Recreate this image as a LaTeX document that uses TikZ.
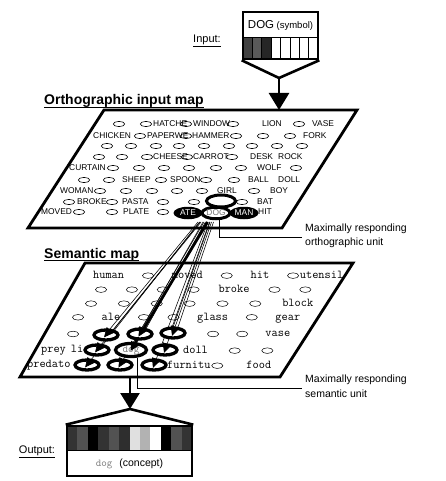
\documentclass[tikz,border=0pt]{standalone}
\usepackage{fontspec}
\setmainfont{Liberation Sans}
\usetikzlibrary{arrows.meta,calc,shapes.geometric}
\newcommand\sunit{\tikz[baseline=-3.0pt]\draw[line width=0.5pt](0pt,0pt) ellipse [x radius=5.6pt,y radius=2.8pt];}
\tikzset{
  plane/.style={draw,line width=2.8pt,fill=white,line join=miter},
  oword/.style={inner sep=0pt,anchor=west,font=\fontsize{8.4}{9}\selectfont},
  oell/.style={ellipse,draw,line width=0.6pt,minimum width=11.5pt,minimum height=5.2pt,inner sep=0pt},
  srow/.style={inner sep=0pt,anchor=west,font=\ttfamily\fontsize{12}{13}\selectfont},
  hunit/.style={ellipse,draw,line width=3.3pt,fill=white,minimum width=24pt,minimum height=10pt,inner sep=0pt},
  blackunit/.style={ellipse,fill=black,text=white,minimum width=29pt,minimum height=12.5pt,inner sep=0pt,font=\fontsize{8.4}{9}\selectfont},
  ringunit/.style={ellipse,draw,line width=3pt,fill=white,minimum width=29pt,minimum height=12pt,inner sep=0pt},
  heavy/.style={line width=2.6pt,line join=miter},
  wire/.style={line width=0.55pt},
  ahead/.style={line width=0.6pt,-{Triangle[length=9.5pt,width=9pt]}},
  lbl/.style={anchor=west,align=left,inner sep=0pt,font=\fontsize{10.5}{14.5}\selectfont},
  hdr/.style={anchor=base west,inner sep=0pt,font=\bfseries\fontsize{14}{15}\selectfont},
  side/.style={inner sep=0pt,font=\fontsize{11}{12}\selectfont},
  boxframe/.style={draw,line width=2.6pt,inner sep=0pt}
}
\newcommand\orow[3]{%
  \foreach \ww/\xx in {#3}{\node[oword] (ow-\ww) at (\xx,#1) {\ww};}%
  \foreach \xx in {#2}{\node[oell] (oe-#1-\xx) at (\xx,#1) {};}%
}
\begin{document}
\begin{tikzpicture}[x=1pt,y=-1pt]
\useasboundingbox (0,0) rectangle (445,481);
\fill[white] (0,0) rectangle (445,481);

% ---------- input ----------
\node[side] (inlbl) at (207,41) {\underline{Input:}};
\foreach \c [count=\i from 0] in {black!75,black!65,black!85,white,white,white,white,white}{
  \fill[\c] (243+\i*9.375,37) rectangle ++(9.375,21);
  \draw[line width=0.6pt] (243+\i*9.375,37) rectangle ++(9.375,21);
}
\node[inner sep=0pt] (itxt) at (280.5,25) {\fontsize{11.5}{12}\selectfont DOG\hskip2.5pt\fontsize{9.5}{10}\selectfont(symbol)};
\node[boxframe,minimum width=75pt,minimum height=47pt] (ibox) at (280.5,35.5) {};
\coordinate (iapex) at (279,78);
\coordinate (otop) at (279,110);
\draw[heavy] (ibox.south west) -- (iapex) -- (ibox.south east);
\draw[heavy,-{Triangle[length=17pt,width=20pt]}] (iapex) -- (otop);

% ---------- orthographic map ----------
\node[hdr] (hdo) at (44,105) {Orthographic input map};
\draw[line width=1.3pt] ([yshift=-2.2pt]hdo.base west) -- ([yshift=-2.2pt]hdo.base east);
\draw[plane] (104,110) -- (357,110) -- (282,228) -- (28,228) -- cycle;

\orow{124}{119,146,186,233,299}{HATCHE/153,WINDOW/193,LION/262,VASE/312}
\orow{136}{140,186,236,263,290}{CHICKEN/93,PAPERWE/147,HAMMER/192,FORK/303}
\orow{146}{107,131,156,179,204,229,252,277,302}{}
\orow{157}{99,122,147,187,232}{CHEESE/153,CARROT/193,DESK/250,ROCK/278}
\orow{168}{113,139,164,189,216,241,296}{CURTAIN/69,WOLF/257}
\orow{180}{84,109,161,206,234}{SHEEP/122,SPOON/170,BALL/248,DOLL/278}
\orow{191}{100,126,152,177,202,254}{WOMAN/60,GIRL/217,BOY/270}
\orow{202}{69,112,163,194,242}{BROKE/77,PASTA/122,BAT/257}
\orow{212}{79,112,163}{MOVED/41,PLATE/123,HIT/258}

\node[ringunit] (oring) at (221,201) {};
\node[blackunit] (oate) at (188,213) {ATE};
\node[blackunit] (oman) at (244,213) {MAN};
\node[ringunit,minimum width=28pt,minimum height=11.5pt,text=black!55,font=\fontsize{8.4}{9}\selectfont] (odog) at (216,213) {DOG};

% ---------- semantic map ----------
\node[hdr] (hds) at (44,258) {Semantic map};
\draw[line width=1.3pt] ([yshift=-2.2pt]hds.base west) -- ([yshift=-2.2pt]hds.base east);
\draw[plane] (85,263) -- (353,263) -- (280,377) -- (20,377) -- cycle;

\node[srow] (s1) at (93,275) {\hbox to 250pt{human\hfill\sunit\hfill moved\hfill\sunit\hfill hit\hfill\sunit\kern1pt utensil}};
\node[srow] (s2) at (95,289) {\hbox to 216pt{\sunit\hfill\sunit\hfill\sunit\hfill\sunit\hfill broke\hfill\sunit\hfill\sunit}};
\node[srow] (s3) at (85,303) {\hbox to 228pt{\sunit\hfill\sunit\hfill\sunit\hfill\sunit\hfill\sunit\hfill\sunit\hfill block}};
\node[srow] (s4) at (72,318) {\hbox to 228pt{\sunit\hfill ale\hfill\sunit\hfill\sunit\hfill glass\hfill\sunit\hfill gear}};
\node[srow] (s5a) at (67,334) {\sunit};
\node[srow] (s5b) at (207,334) {\hbox to 83pt{\sunit\hfill\sunit\hfill vase}};
\node[srow] (s6a) at (41,350) {prey\kern5pt li};
\node[srow] (s6b) at (183,350) {\hbox to 90pt{doll\hfill\sunit\hfill\sunit}};
\node[srow] (s7a) at (27,365) {predato};
\node[srow] (s7b) at (167,365) {\hbox to 104pt{furnitu\kern1pt\sunit\hfill food}};

% sources under the orthographic DOG unit
\coordinate (q1) at (198,222);
\coordinate (q2) at (201,222);
\coordinate (q3) at (203,222);
\coordinate (q4) at (205.5,222);
\coordinate (q5) at (207.5,222);
\coordinate (q6) at (209.5,222);
\coordinate (q7) at (211.5,222);
\coordinate (q8) at (213.5,222);
\coordinate (q9) at (200,222);
\coordinate (q10) at (210,222);
\coordinate (q11) at (199.5,222);
\coordinate (q12) at (204,222);
\coordinate (q13) at (208,222);

% highlighted semantic units (positions)
\coordinate (p1) at (106,335);
\coordinate (p2) at (140,334);
\coordinate (p3) at (173,333);
\coordinate (p4) at (97,350);
\coordinate (p5) at (131,350);
\coordinate (p6) at (165,350);
\coordinate (p7) at (87,365);
\coordinate (p8) at (120,365);
\coordinate (p9) at (154,365);

% wires
\draw[wire] (q1) -- ([xshift=-1pt]p1);
\draw[wire] (q2) -- ([xshift=3pt]p1);
\draw[wire] (q3) -- ([xshift=-1pt]p2);
\draw[wire] (q4) -- ([xshift=3pt]p2);
\draw[line width=2.8pt] (q5) -- (p5);
\draw[wire] (q6) -- ([xshift=-3pt]p3);
\draw[wire] (q7) -- (p3);
\draw[wire] (q8) -- ([xshift=3pt]p3);
\draw[wire] (q9) -- (p4);
\draw[wire] (q10) -- (p6);
\draw[wire] (q11) -- (p7);
\draw[wire] (q12) -- (p8);
\draw[wire] (q13) -- (p9);

% units
\node[hunit] (h1) at (p1) {};
\node[hunit] (h2) at (p2) {};
\node[hunit] (h3) at (p3) {};
\node[hunit] (h4) at (p4) {};
\node[hunit,minimum width=31pt,minimum height=13pt,font=\ttfamily\fontsize{11}{12}\selectfont,text=black!55] (sdog) at (p5) {dog};
\node[hunit] (h6) at (p6) {};
\node[hunit] (h7) at (p7) {};
\node[hunit] (h8) at (p8) {};
\node[hunit] (h9) at (p9) {};

% arrowheads
\draw[ahead] ($(h1.center)!6pt!(q2)$) -- ($(h1.center)!-3pt!(q2)$);
\draw[ahead] ($(h2.center)!6pt!(q4)$) -- ($(h2.center)!-3pt!(q4)$);
\draw[ahead] ($(h3.center)!6pt!(q7)$) -- ($(h3.center)!-3pt!(q7)$);
\draw[ahead] ($(h4.center)!6pt!(q9)$) -- ($(h4.center)!-3pt!(q9)$);
\draw[line width=1pt,-{Triangle[length=9pt,width=9pt]}] ($(sdog.center)!9pt!(q5)$) -- ($(sdog.center)!-1pt!(q5)$);
\draw[ahead] ($(h6.center)!6pt!(q10)$) -- ($(h6.center)!-3pt!(q10)$);
\draw[ahead] ($(h7.center)!6pt!(q11)$) -- ($(h7.center)!-3pt!(q11)$);
\draw[ahead] ($(h8.center)!6pt!(q12)$) -- ($(h8.center)!-3pt!(q12)$);
\draw[ahead] ($(h9.center)!6pt!(q13)$) -- ($(h9.center)!-3pt!(q13)$);

% ---------- pointers and labels ----------
\coordinate (ocn) at (302,237);
\draw[line width=0.8pt] ([xshift=3pt]odog.south) |- (ocn);
\node[lbl] (olbl) at (305,236) {Maximally responding\\orthographic unit};
\coordinate (scn) at (302,388);
\draw[line width=0.8pt] ([xshift=6pt]sdog.south) |- (scn);
\node[lbl] (slbl) at (305,386) {Maximally responding\\semantic unit};

% ---------- output ----------
\coordinate (sbot) at (130,377);
\coordinate (oapex) at (130,409);
\draw[heavy,-{Triangle[length=16pt,width=19pt]}] (sbot) -- (oapex);
\node[side] (outlbl) at (37,452) {\underline{Output:}};
\foreach \c [count=\i from 0] in {black!80,black!68,black,black!80,black!68,black!82,black!12,black!30,white,black,black!68,black!80}{
  \fill[\c] (67+\i*10.4167,427) rectangle ++(10.4167,23);
}
\draw[line width=0.8pt] (67,450) -- (192,450);
\node[inner sep=0pt,font=\fontsize{10.5}{12}\selectfont] (otxt) at (129.5,463.5) {{\ttfamily\color{black!50}dog}\hskip7pt(concept)};
\node[boxframe,minimum width=125pt,minimum height=50pt] (obox) at (129.5,451) {};
\draw[heavy] (obox.north west) -- (oapex) -- (obox.north east);
\end{tikzpicture}
\end{document}
